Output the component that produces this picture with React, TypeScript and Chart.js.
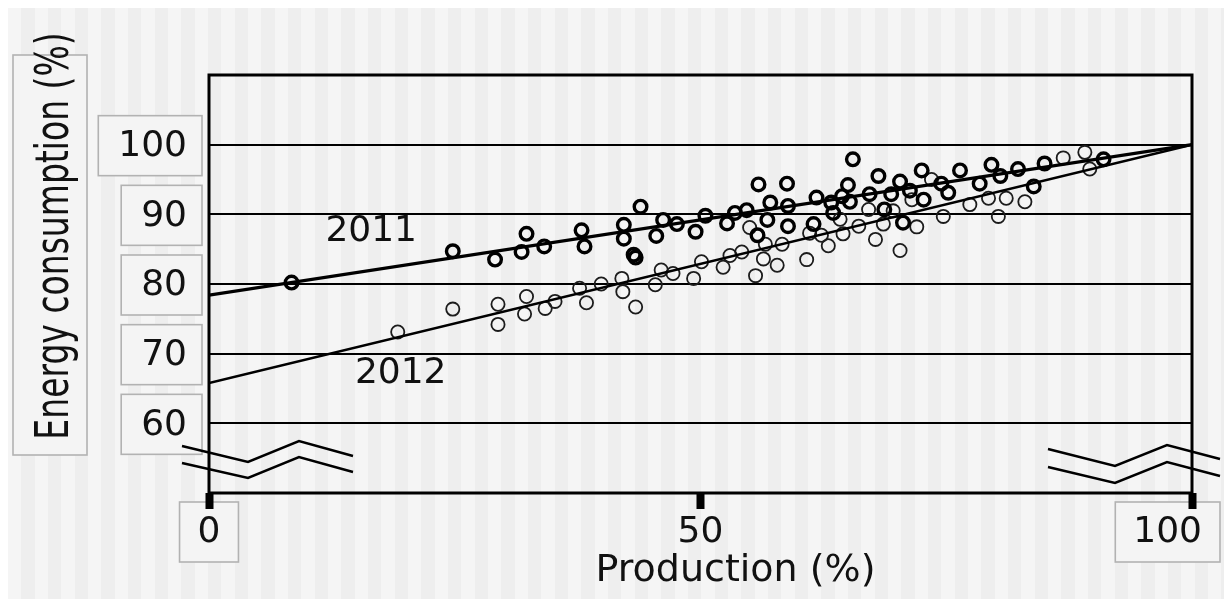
import React, { useEffect, useRef } from "react";
import { Chart, registerables } from "chart.js";

Chart.register(...registerables);

// Axis ticks
const xTicks = [0, 50, 100];
const xTickLabels = ["0", "50", "100"];
const xTickBoxed = [true, false, true];
const yTicks = [60, 70, 80, 90, 100];
const yTickLabels = ["60", "70", "80", "90", "100"];
const xTitle = "Production (%)";
const yTitle = "Energy consumption (%)";

// Series names and where their labels sit (data coordinates)
const seriesNames = ["2011", "2012"];
const seriesLabelX = [16.5, 19.5];
const seriesLabelY = [87.5, 67.1];

// 2011 observations: production (%) vs. energy consumption (%)
const prod2011 = [
  8.4, 24.8, 29.1, 31.8, 32.3, 34.1, 37.9, 38.2, 42.2, 42.2, 43.2, 43.4, 43.9, 45.5,
  46.2, 47.6, 49.5, 50.5, 52.7, 53.5, 54.7, 55.9, 55.8, 56.8, 57.1, 58.8, 58.9, 58.9,
  61.5, 61.8, 63.3, 63.5, 64.4, 65.0, 65.2, 65.5, 67.2, 68.1, 68.7, 69.4, 70.3, 70.6,
  71.3, 72.5, 72.7, 74.5, 75.2, 76.4, 78.4, 79.6, 80.5, 82.3, 83.9, 85.0, 91.0,
];
const energy2011 = [
  80.2, 84.7, 83.5, 84.6, 87.2, 85.4, 87.7, 85.4, 88.5, 86.5, 84.2, 83.8, 91.1, 86.9,
  89.2, 88.6, 87.5, 89.8, 88.7, 90.2, 90.6, 94.3, 87.0, 89.2, 91.7, 94.4, 91.2, 88.3,
  88.6, 92.4, 91.7, 90.2, 92.6, 94.2, 91.8, 97.9, 92.9, 95.5, 90.7, 92.9, 94.7, 88.8,
  93.4, 96.3, 92.1, 94.4, 93.1, 96.3, 94.4, 97.1, 95.5, 96.5, 94.0, 97.3, 97.9,
];

// 2012 observations
const prod2012 = [
  19.2, 24.8, 29.4, 29.4, 32.3, 32.1, 34.2, 35.2, 37.7, 38.4, 39.9, 42.0, 42.1, 43.4,
  45.4, 46.0, 47.2, 49.3, 50.1, 52.3, 53.0, 54.2, 55.0, 55.6, 56.4, 56.6, 57.8, 58.3,
  60.8, 61.1, 62.3, 63.0, 64.2, 64.5, 66.1, 67.1, 67.8, 68.6, 69.6, 70.3, 71.5, 72.0,
  73.5, 74.7, 77.4, 79.3, 80.3, 81.1, 83.0, 86.9, 89.1, 89.6,
];
const energy2012 = [
  73.1, 76.4, 77.1, 74.2, 78.2, 75.7, 76.5, 77.5, 79.4, 77.3, 80.0, 80.8, 78.9, 76.7,
  79.9, 82.0, 81.5, 80.8, 83.2, 82.4, 84.1, 84.6, 88.1, 81.2, 83.6, 85.7, 82.7, 85.7,
  83.5, 87.3, 87.0, 85.5, 89.3, 87.2, 88.3, 90.7, 86.4, 88.6, 90.5, 84.8, 92.1, 88.2,
  95.0, 89.7, 91.4, 92.3, 89.7, 92.3, 91.8, 98.1, 98.9, 96.5,
];

// Fitted trend lines (endpoints at production 0 and 100)
const fitX = [0, 100];
const fit2011 = [78.4, 100];
const fit2012 = [65.8, 100];

const FONT = '"DejaVu Sans", Verdana, sans-serif';
const INK = "#111";

function labelBox(ctx: CanvasRenderingContext2D, x: number, y: number, w: number, h: number) {
  ctx.fillStyle = "#f4f4f4";
  ctx.fillRect(x, y, w, h);
  ctx.strokeStyle = "#b2b2b2";
  ctx.lineWidth = 1.6;
  ctx.strokeRect(x, y, w, h);
}

const backdrop = {
  id: "backdrop",
  beforeDraw(chart: any) {
    const { ctx, width, height, chartArea } = chart;
    const xs = chart.scales.x;
    const ys = chart.scales.y;
    ctx.save();
    // vertical stripe background
    ctx.fillStyle = "#f5f5f5";
    ctx.fillRect(0, 0, width, height);
    ctx.fillStyle = "#eeeeee";
    const period = 80 / 3;
    for (let x = 0; x < width; x += period) {
      const a = Math.round(x + period / 2);
      const b = Math.round(x + period);
      ctx.fillRect(a, 0, b - a, height);
    }

    // y tick labels in boxes
    ctx.font = `36px ${FONT}`;
    ctx.textBaseline = "middle";
    yTicks.forEach((v, i) => {
      const py = ys.getPixelForValue(v);
      const txt = yTickLabels[i];
      const w = ctx.measureText(txt).width;
      const right = chartArea.left - 22;
      const bx = right - w - 20;
      const bw = chartArea.left - 7 - bx;
      labelBox(ctx, bx, py - 29, bw, 60);
      ctx.fillStyle = INK;
      ctx.textAlign = "right";
      ctx.fillText(txt, right, py + 2);
    });

    // x tick labels
    xTicks.forEach((v, i) => {
      const px = xs.getPixelForValue(v);
      const txt = xTickLabels[i];
      const w = ctx.measureText(txt).width;
      const bw = w + 36;
      let cx = px;
      if (cx + bw / 2 > width - 12) cx = width - 12 - bw / 2;
      if (xTickBoxed[i]) labelBox(ctx, cx - bw / 2, chartArea.bottom + 9, bw, 60);
      ctx.fillStyle = INK;
      ctx.textAlign = "center";
      ctx.fillText(txt, cx, chartArea.bottom + 40);
    });

    // x axis title
    ctx.font = `38px ${FONT}`;
    ctx.textAlign = "center";
    ctx.fillText(xTitle, (chartArea.left + chartArea.right) / 2 + 35, chartArea.bottom + 78);

    // y axis title, boxed and rotated
    labelBox(ctx, 5, chartArea.top - 20, 74, 400);
    ctx.translate(48, chartArea.top + 161);
    ctx.rotate(-Math.PI / 2);
    ctx.scale(1, 1.4);
    ctx.font = `33px ${FONT}`;
    ctx.fillStyle = INK;
    ctx.textAlign = "center";
    ctx.fillText(yTitle, 0, 0);
    ctx.restore();

    // series labels
    ctx.save();
    ctx.font = `36px ${FONT}`;
    ctx.fillStyle = INK;
    ctx.textAlign = "center";
    ctx.textBaseline = "middle";
    seriesNames.forEach((name, i) => {
      ctx.fillText(name, xs.getPixelForValue(seriesLabelX[i]), ys.getPixelForValue(seriesLabelY[i]));
    });
    ctx.restore();
  },
  beforeDatasetsDraw(chart: any) {
    const { ctx, chartArea } = chart;
    ctx.save();
    ctx.strokeStyle = "#000";
    ctx.lineWidth = 3;
    ctx.strokeRect(chartArea.left, chartArea.top, chartArea.right - chartArea.left, chartArea.bottom - chartArea.top);
    ctx.restore();
  },
  afterDraw(chart: any) {
    // axis break marks near the bottom corners
    const { ctx, chartArea } = chart;
    const L = chartArea.left;
    const R = chartArea.right;
    const B = chartArea.bottom;
    const zig = (pts: number[][]) => {
      ctx.beginPath();
      pts.forEach(([x, y], i) => (i ? ctx.lineTo(x, y) : ctx.moveTo(x, y)));
      ctx.stroke();
    };
    ctx.save();
    ctx.strokeStyle = "#000";
    ctx.lineWidth = 2.5;
    ctx.lineJoin = "miter";
    zig([[L - 27, B - 47], [L + 39, B - 31], [L + 90, B - 52], [L + 144, B - 37]]);
    zig([[L - 27, B - 30], [L + 39, B - 15], [L + 90, B - 36], [L + 144, B - 21]]);
    zig([[R - 144, B - 44], [R - 77, B - 27], [R - 25, B - 48], [R + 28, B - 34]]);
    zig([[R - 144, B - 26], [R - 77, B - 10], [R - 25, B - 31], [R + 28, B - 17]]);
    ctx.restore();
  },
};

export default function App() {
  const ref = useRef<HTMLCanvasElement | null>(null);

  useEffect(() => {
    if (!ref.current) return;
    const pts = (xs: number[], ys: number[]) => xs.map((x, i) => ({ x, y: ys[i] }));
    const chart = new Chart(ref.current, {
      type: "scatter",
      data: {
        datasets: [
          {
            label: "fit 2011",
            data: pts(fitX, fit2011),
            showLine: true,
            borderColor: "#000",
            borderWidth: 3.2,
            pointRadius: 0,
          },
          {
            label: "fit 2012",
            data: pts(fitX, fit2012),
            showLine: true,
            borderColor: "#000",
            borderWidth: 2.5,
            pointRadius: 0,
          },
          {
            label: seriesNames[0],
            data: pts(prod2011, energy2011),
            pointRadius: 6.3,
            borderWidth: 3.4,
            borderColor: "#000",
            backgroundColor: "rgba(0,0,0,0)",
          },
          {
            label: seriesNames[1],
            data: pts(prod2012, energy2012),
            pointRadius: 6.6,
            borderWidth: 1.8,
            borderColor: "#1c1c1c",
            backgroundColor: "rgba(0,0,0,0)",
          },
        ],
      },
      options: {
        responsive: false,
        devicePixelRatio: 1,
        animation: false,
        layout: { padding: { top: 67, right: 40, bottom: 0, left: 0 } },
        plugins: { legend: { display: false }, tooltip: { enabled: false } },
        scales: {
          x: {
            type: "linear",
            min: 0,
            max: 100,
            afterBuildTicks: (s: any) => {
              s.ticks = xTicks.map((value) => ({ value }));
            },
            afterFit: (s: any) => {
              s.height = 110;
            },
            ticks: { display: false },
            grid: {
              drawOnChartArea: false,
              drawTicks: true,
              tickLength: 16,
              tickWidth: 8,
              tickColor: "#000",
            },
            border: { display: false },
          },
          y: {
            type: "linear",
            min: 50,
            max: 110,
            afterBuildTicks: (s: any) => {
              s.ticks = yTicks.map((value) => ({ value }));
            },
            afterFit: (s: any) => {
              s.width = 201;
            },
            ticks: { display: false },
            grid: { color: "#000", lineWidth: 2, drawTicks: false },
            border: { display: false },
          },
        },
      } as any,
      plugins: [backdrop],
    });
    return () => chart.destroy();
  }, []);

  return (
    <div style={{ width: 1224, height: 595, marginBottom: -4 }}>
      <canvas ref={ref} width={1224} height={595} style={{ display: "block" }} />
    </div>
  );
}
